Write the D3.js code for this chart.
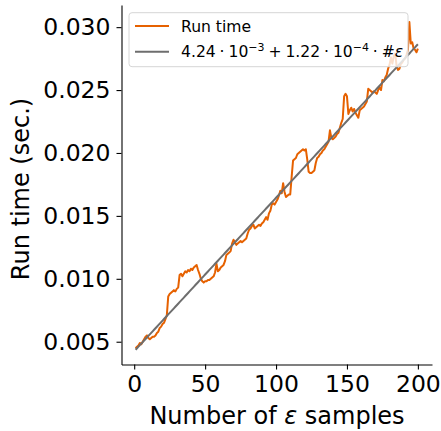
<!DOCTYPE html>
<html>
<head>
<meta charset="utf-8">
<script src="https://cdn.jsdelivr.net/npm/d3@7"></script>
<style>
  html, body { margin: 0; padding: 0; background: #fff; }
  svg text { font-family: "DejaVu Sans", sans-serif; fill: #000; }
</style>
</head>
<body>
<svg id="chart" width="441" height="431"></svg>
<script>
// ---- data ----
const samples = d3.range(1, 201);
const runTime = [
  0.00448, 0.0046, 0.0047, 0.0049, 0.0048, 0.0050, 0.0052, 0.0054, 0.0055, 0.0053,
  0.0052, 0.0053, 0.0054, 0.0054, 0.0055, 0.0057, 0.0058, 0.0061, 0.0062, 0.0064,
  0.0065, 0.0068, 0.0071, 0.0086, 0.0088, 0.0089, 0.0090, 0.0091, 0.0090, 0.0092,
  0.0093, 0.0103, 0.0104, 0.0102, 0.0104, 0.0106, 0.0105, 0.0107, 0.0106, 0.0108,
  0.0107, 0.0109, 0.0110, 0.0111, 0.0107, 0.0104, 0.0100, 0.0098, 0.0097, 0.0098,
  0.0098, 0.0099, 0.0099, 0.0100, 0.0101, 0.0102, 0.0105, 0.0112, 0.0106, 0.0107,
  0.0109, 0.0110, 0.0111, 0.0114, 0.0119, 0.0120, 0.0121, 0.0122, 0.0128, 0.0131,
  0.0129, 0.0127, 0.0128, 0.0129, 0.0130, 0.0129, 0.0130, 0.0131, 0.0132, 0.0136,
  0.0139, 0.0140, 0.0142, 0.0143, 0.0140, 0.0141, 0.0142, 0.0143, 0.0142, 0.0144,
  0.0145, 0.0147, 0.0149, 0.0147, 0.0152, 0.0154, 0.0159, 0.0160, 0.0159, 0.0161,
  0.0163, 0.0166, 0.0170, 0.0168, 0.0176, 0.0169, 0.0165, 0.0166, 0.0167, 0.0167,
  0.0181, 0.0194, 0.0195, 0.0196, 0.0199, 0.0200, 0.0201, 0.0202, 0.0203, 0.0202,
  0.0203, 0.0195, 0.0185, 0.0184, 0.0184, 0.0185, 0.0186, 0.0192, 0.0196, 0.0197,
  0.0199, 0.0200, 0.0202, 0.0203, 0.0205, 0.0207, 0.0209, 0.0218, 0.0212, 0.0211,
  0.0212, 0.0213, 0.0215, 0.0216, 0.0220, 0.0224, 0.0227, 0.0245, 0.0247, 0.0245,
  0.0231, 0.0234, 0.0236, 0.0233, 0.0235, 0.0232, 0.0230, 0.0228, 0.0234, 0.0235,
  0.0236, 0.0237, 0.0239, 0.0241, 0.0251, 0.0250, 0.0249, 0.0248, 0.0249, 0.0248,
  0.0247, 0.0250, 0.0252, 0.0250, 0.0258, 0.0257, 0.0260, 0.0262, 0.0267, 0.0270,
  0.0276, 0.0271, 0.0277, 0.0279, 0.0269, 0.0266, 0.0267, 0.0271, 0.0272, 0.0274,
  0.0275, 0.0278, 0.0282, 0.0304, 0.0287, 0.0288, 0.0283, 0.0282, 0.0280, 0.0283
];
const fitIntercept = 4.24e-3;
const fitSlope = 1.22e-4;
const xTicks = [0, 50, 100, 150, 200];
const yTicks = [0.005, 0.010, 0.015, 0.020, 0.025, 0.030];
const yTickLabels = ["0.005", "0.010", "0.015", "0.020", "0.025", "0.030"];
const legendLabels = ["Run time", "fit"];

// ---- layout ----
const svg = d3.select("#chart");
const mLeft = 121.5, mRight = 432, mTop = 5, mBottom = 364.5;
const x = d3.scaleLinear().domain([-8.95, 209.95]).range([mLeft, mRight]);
const y = d3.scaleLinear().domain([0.00319, 0.03176]).range([mBottom, mTop]);

const orange = "#e66100";
const gray = "#6e6e6e";

const fitData = samples.map(s => [s, fitIntercept + fitSlope * s]);
const runData = samples.map((s, i) => [s, runTime[i]]);
const line = d3.line().x(d => x(d[0])).y(d => y(d[1]));

svg.append("path").datum(runData)
  .attr("d", line).attr("fill", "none")
  .attr("stroke", orange).attr("stroke-width", 2).attr("stroke-linejoin", "round");
svg.append("path").datum(fitData)
  .attr("d", line).attr("fill", "none")
  .attr("stroke", gray).attr("stroke-width", 2);

// axes
const fs = 23.5;
const xAxis = svg.append("g").attr("transform", `translate(0,${mBottom})`)
  .call(d3.axisBottom(x).tickValues(xTicks).tickSize(5).tickPadding(6).tickSizeOuter(0));
const yAxis = svg.append("g").attr("transform", `translate(${mLeft},0)`)
  .call(d3.axisLeft(y).tickValues(yTicks).tickFormat((d, i) => yTickLabels[i]).tickSize(5).tickPadding(6).tickSizeOuter(0));
[xAxis, yAxis].forEach(g => {
  g.selectAll("text").attr("font-size", fs).attr("font-family", "DejaVu Sans").attr("fill", "#000");
  g.selectAll("line").attr("stroke", "#000").attr("stroke-width", 1.1);
  g.select(".domain").attr("stroke", "#000").attr("stroke-width", 1.1);
});

// axis labels
const xl = svg.append("text").attr("x", 277).attr("y", 424)
  .attr("text-anchor", "middle").attr("font-size", 24);
xl.append("tspan").text("Number of ");
xl.append("tspan").attr("font-style", "italic").text("ε");
xl.append("tspan").text(" samples");

svg.append("text").attr("transform", "translate(29,189) rotate(-90)")
  .attr("text-anchor", "middle").attr("font-size", 24).text("Run time (sec.)");

// legend
const lg = svg.append("g");
lg.append("rect").attr("x", 129).attr("y", 12.7).attr("width", 279).attr("height", 54)
  .attr("rx", 3).attr("fill", "#fff").attr("fill-opacity", 0.8)
  .attr("stroke", "#d6d6d6").attr("stroke-width", 1);
const lfs = 15.6;
lg.append("line").attr("x1", 135).attr("x2", 169).attr("y1", 26).attr("y2", 26)
  .attr("stroke", orange).attr("stroke-width", 2);
lg.append("line").attr("x1", 135).attr("x2", 169).attr("y1", 51.7).attr("y2", 51.7)
  .attr("stroke", gray).attr("stroke-width", 2);
lg.append("text").attr("x", 181).attr("y", 31.5).attr("font-size", lfs).text(legendLabels[0]);
const ft = lg.append("text").attr("x", 181).attr("y", 57.2).attr("font-size", lfs);
ft.append("tspan").text("4.24\u2005·\u200510");
ft.append("tspan").attr("dy", -6.5).attr("font-size", 11).text("−3");
ft.append("tspan").attr("dy", 6.5).text("\u2005+\u20051.22\u2005·\u200510");
ft.append("tspan").attr("dy", -6.5).attr("font-size", 11).text("−4");
ft.append("tspan").attr("dy", 6.5).text("\u2005·\u2005#");
ft.append("tspan").attr("font-style", "italic").text("ε");
</script>
</body>
</html>
